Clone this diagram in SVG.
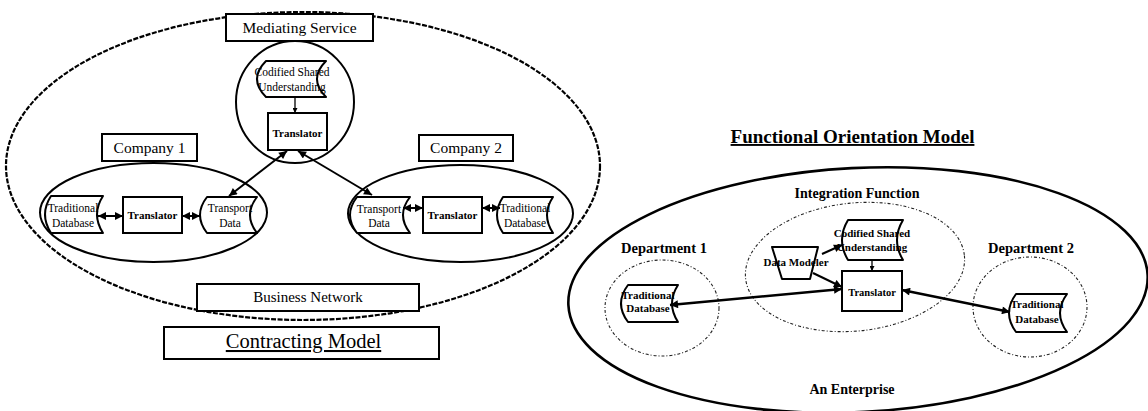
<svg xmlns="http://www.w3.org/2000/svg" width="1148" height="411" viewBox="0 0 1148 411">
<style>
text{font-family:"Liberation Serif","Times New Roman",serif;fill:#000;text-anchor:middle}
.b{font-weight:bold}
.box{fill:#fff;stroke:#000;stroke-width:2}
.sd{fill:#fff;stroke:#000;stroke-width:2;stroke-linejoin:round}
.solid{fill:#fff;stroke:#000;stroke-width:2}
.bigdash{fill:none;stroke:#000;stroke-width:2.2;stroke-dasharray:5 1.5}
.thindash{fill:none;stroke:#222;stroke-width:1.1;stroke-dasharray:3 2 1 2}
.con{fill:none;stroke:#000;stroke-width:2}
.conT{fill:none;stroke:#000;stroke-width:2.6}
.conS{fill:none;stroke:#000;stroke-width:1.3}
</style>
<defs>
<marker id="ah" viewBox="0 0 10 10" refX="10" refY="5" markerUnits="userSpaceOnUse" markerWidth="10" markerHeight="8" orient="auto-start-reverse"><path d="M0,0 L10,5 L0,10 z" fill="#000"/></marker>
<marker id="ahs" viewBox="0 0 10 10" refX="10" refY="5" markerUnits="userSpaceOnUse" markerWidth="6" markerHeight="5" orient="auto-start-reverse"><path d="M0,0 L10,5 L0,10 z" fill="#000"/></marker>
</defs>

<!-- ===== Contracting Model ===== -->
<g id="business-network-area"><ellipse class="bigdash" cx="303" cy="166" rx="297" ry="154"/></g>
<g id="mediating-service-circle"><ellipse class="solid" cx="295" cy="102" rx="59" ry="61"/></g>
<g id="company1-area"><ellipse class="solid" cx="153.5" cy="212.5" rx="113.5" ry="49.5"/></g>
<g id="company2-area"><ellipse class="solid" cx="460.5" cy="213.5" rx="112.5" ry="48.5"/></g>

<g id="mediating-service-label"><rect class="box" x="226" y="14" width="147" height="27"/><text x="299.5" y="33" font-size="15.5">Mediating Service</text></g>
<g id="company1-label"><rect class="box" x="102" y="134" width="95" height="27"/><text x="149.5" y="153" font-size="15.5">Company 1</text></g>
<g id="company2-label"><rect class="box" x="419" y="135" width="94" height="26"/><text x="466" y="153" font-size="15.5">Company 2</text></g>
<g id="business-network-label"><rect class="box" x="197" y="284" width="222" height="27"/><text x="308" y="302" font-size="15">Business Network</text></g>
<g id="contracting-model-title"><rect class="box" x="164" y="327" width="275" height="32"/><text x="303.5" y="348" font-size="20.5" text-decoration="underline">Contracting Model</text></g>

<g id="ms-codified"><path class="sd" d="M266,61 H326 Q308,79 326,97 H266 Q248,79 266,61 Z"/><text x="292" y="76" font-size="11.5">Codified Shared</text><text x="292" y="91" font-size="11.5">Understanding</text></g>
<g id="ms-translator"><rect class="box" x="268" y="113" width="59" height="37"/><text class="b" x="297.5" y="137" font-size="11">Translator</text></g>

<g id="c1-database"><path class="sd" d="M51,196 H103 Q91,214.5 103,233 H51 Q39,214.5 51,196 Z"/><text x="73" y="212" font-size="11.5">Traditional</text><text x="73" y="227" font-size="11.5">Database</text></g>
<g id="c1-translator"><rect class="box" x="123" y="197" width="59" height="36"/><text class="b" x="152.5" y="219" font-size="11">Translator</text></g>
<g id="c1-transport"><path class="sd" d="M207,197 H257 Q243,215 257,233 H207 Q193,215 207,197 Z"/><text x="230" y="212" font-size="11.5">Transport</text><text x="230" y="227" font-size="11.5">Data</text></g>

<g id="c2-transport"><path class="sd" d="M357,197 H410 Q396,215 410,233 H357 Q343,215 357,197 Z"/><text x="379" y="213" font-size="11.5">Transport</text><text x="379" y="227" font-size="11.5">Data</text></g>
<g id="c2-translator"><rect class="box" x="423" y="197" width="59" height="36"/><text class="b" x="452.5" y="219" font-size="11">Translator</text></g>
<g id="c2-database"><path class="sd" d="M503,197 H553 Q541,215 553,233 H503 Q491,215 503,197 Z"/><text x="525" y="212" font-size="11.5">Traditional</text><text x="525" y="227" font-size="11.5">Database</text></g>

<!-- ===== Functional Orientation Model ===== -->
<g id="functional-title"><text class="b" x="852.5" y="143" font-size="19" text-decoration="underline">Functional Orientation Model</text></g>
<g id="enterprise"><ellipse fill="none" stroke="#000" stroke-width="2.6" cx="858" cy="290" rx="290" ry="122" transform="rotate(-3 858 290)"/><text class="b" x="852" y="394" font-size="14">An Enterprise</text></g>
<g id="integration-function"><ellipse class="thindash" cx="855" cy="267" rx="110" ry="64" transform="rotate(-6 855 267)"/><text class="b" x="857" y="198" font-size="14">Integration Function</text></g>
<g id="department1"><ellipse class="thindash" cx="662" cy="308" rx="57" ry="48"/><text class="b" x="664" y="253" font-size="14.5">Department 1</text></g>
<g id="department2"><ellipse class="thindash" cx="1030" cy="307" rx="57" ry="50"/><text class="b" x="1031" y="253" font-size="14.5">Department 2</text></g>

<g id="if-codified"><path class="sd" d="M848,220 H903 Q891,240 903,260 H848 Q836,240 848,220 Z"/><text class="b" x="872" y="237" font-size="11">Codified Shared</text><text class="b" x="872" y="251" font-size="11">Understanding</text></g>
<g id="if-data-modeler"><path class="sd" d="M772,247 H818 L810,279 H782 Z"/><text class="b" x="796" y="266" font-size="11">Data Modeler</text></g>
<g id="if-translator"><rect class="box" x="842" y="271" width="60" height="40"/><text class="b" x="872" y="296" font-size="10.5">Translator</text></g>
<g id="d1-database"><path class="sd" d="M628,285 H678 Q666,303.5 678,322 H628 Q614,303.5 628,285 Z"/><text class="b" x="648" y="299" font-size="11">Traditional</text><text class="b" x="648" y="312" font-size="11">Database</text></g>
<g id="d2-database"><path class="sd" d="M1016,294 H1067 Q1053,313 1067,332 H1016 Q1002,313 1016,294 Z"/><text class="b" x="1037" y="308" font-size="11">Traditional</text><text class="b" x="1037" y="323" font-size="11">Database</text></g>

<g id="connectors">
<line class="conS" x1="295" y1="97" x2="295" y2="113" marker-end="url(#ahs)"/>
<line class="con" x1="287" y1="151" x2="229" y2="196" marker-start="url(#ah)" marker-end="url(#ah)"/>
<line class="con" x1="298" y1="151" x2="372" y2="195" marker-start="url(#ah)" marker-end="url(#ah)"/>
<line class="con" x1="98" y1="216" x2="123" y2="216" marker-start="url(#ah)" marker-end="url(#ah)"/>
<line class="con" x1="182" y1="216" x2="200" y2="216" marker-start="url(#ah)" marker-end="url(#ah)"/>
<line class="con" x1="403" y1="208" x2="423" y2="208" marker-start="url(#ah)" marker-end="url(#ah)"/>
<line class="con" x1="482" y1="208" x2="500" y2="208" marker-start="url(#ah)" marker-end="url(#ah)"/>
<line class="conS" x1="872" y1="260" x2="872" y2="271" marker-end="url(#ahs)"/>
<line class="con" x1="822" y1="254" x2="842" y2="245" marker-end="url(#ah)"/>
<line class="con" x1="813" y1="273" x2="842" y2="287" marker-end="url(#ah)"/>
<line class="conT" x1="842" y1="289" x2="670" y2="305" marker-start="url(#ah)" marker-end="url(#ah)"/>
<line class="conT" x1="902" y1="290" x2="1010" y2="312" marker-start="url(#ah)" marker-end="url(#ah)"/>
</g>
</svg>
